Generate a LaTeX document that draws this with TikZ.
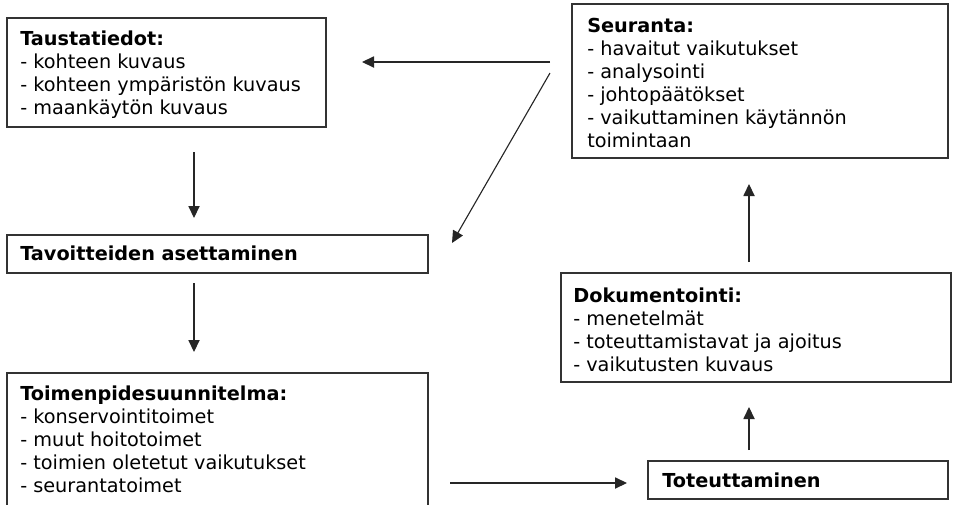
\documentclass[tikz,border=0pt]{standalone}
\usepackage{fontspec}
\setmainfont{DejaVu Sans}
\usetikzlibrary{arrows.meta}
\usetikzlibrary{fit}

\tikzset{
  laatikko/.style={draw=black!80, line width=1pt, inner sep=0pt},
  teksti/.style={anchor=north west, align=left, inner sep=0pt, font=\fontsize{13.7}{16.35}\selectfont},
  nuoli/.style={black!85, line width=0.8pt, -{Triangle[length=3mm,width=2.8mm]}}
}

\begin{document}
\begin{tikzpicture}[x=0.25mm,y=-0.25mm]

\useasboundingbox (0,0) rectangle (954,504);
\clip (0,0) rectangle (954,504);

\node[laatikko, fit={(7,18) (326,127)}] (tausta) {};
\node[laatikko, fit={(572,4) (948,158)}] (seuranta) {};
\node[laatikko, fit={(7,235) (428,273)}] (tavoite) {};
\node[laatikko, fit={(561,273) (951,382)}] (dokumentointi) {};
\node[laatikko, fit={(7,373) (428,515)}] (toimenpide) {};
\node[laatikko, fit={(648,461) (948,499)}] (toteutus) {};

\node[teksti] (taustateksti) at (20,31) {\textbf{Taustatiedot:}\\- kohteen kuvaus\\- kohteen ympäristön kuvaus\\- maankäytön kuvaus};
\node[teksti] (seurantateksti) at (587,18) {\textbf{Seuranta:}\\- havaitut vaikutukset\\- analysointi\\- johtopäätökset\\- vaikuttaminen käytännön\\toimintaan};
\node[teksti] (tavoiteteksti) at (20,246) {\textbf{Tavoitteiden asettaminen}};
\node[teksti] (toimenpideteksti) at (20,386) {\textbf{Toimenpidesuunnitelma:}\\- konservointitoimet\\- muut hoitotoimet\\- toimien oletetut vaikutukset\\- seurantatoimet};
\node[teksti] (dokumentointiteksti) at (573,288) {\textbf{Dokumentointi:}\\- menetelmät\\- toteuttamistavat ja ajoitus\\- vaikutusten kuvaus};
\node[teksti] (toteutusteksti) at (662,473) {\textbf{Toteuttaminen}};

\coordinate (s1) at (550,62);
\coordinate (t1) at (362,62);
\coordinate (s2) at (550,73);
\coordinate (t2) at (452,243);
\coordinate (a1) at (194,152);
\coordinate (b1) at (194,218);
\coordinate (a2) at (194,283);
\coordinate (b2) at (194,352);
\coordinate (a3) at (450,483);
\coordinate (b3) at (627,483);
\coordinate (a4) at (749,450);
\coordinate (b4) at (749,407);
\coordinate (a5) at (749,262);
\coordinate (b5) at (749,184);

\draw[nuoli] (s1) -- (t1);
\draw[nuoli] (s2) -- (t2);
\draw[nuoli] (a1) -- (b1);
\draw[nuoli] (a2) -- (b2);
\draw[nuoli] (a3) -- (b3);
\draw[nuoli] (a4) -- (b4);
\draw[nuoli] (a5) -- (b5);

\end{tikzpicture}
\end{document}
